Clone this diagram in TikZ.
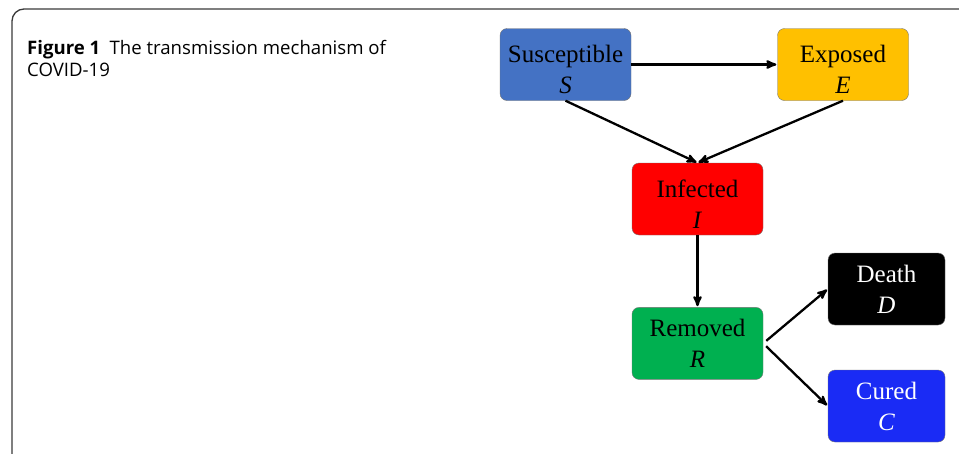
\documentclass[tikz,border=0pt]{standalone}
\usepackage{fontspec}
\setmainfont{Liberation Serif}
\newfontfamily\captionfont{Open Sans}
\usetikzlibrary{positioning,arrows}
\definecolor{suscblue}{HTML}{4472C4}
\definecolor{exposedyellow}{HTML}{FFC000}
\definecolor{infectedred}{HTML}{FF0000}
\definecolor{removedgreen}{HTML}{00B050}
\definecolor{curedblue}{HTML}{1A2BF5}
\definecolor{framegray}{HTML}{3A3A3A}
\newcommand{\lowstrut}{\rule{0pt}{27.5pt}}
\tikzset{
>=stealth',
  compartment/.style={
    rectangle, 
    rounded corners=7pt, 
    draw=black!55, thin,
    minimum width=131pt, 
    minimum height=72pt, 
    align=center,
    font=\fontsize{25}{31}\selectfont},
  outcome/.style={
    compartment,
    minimum width=117pt,
    text=white},
  line/.style={draw, line width=2.3pt, ->, shorten >=1pt},
}
\begin{document}
\begin{tikzpicture}
  [x=1pt, y=1pt]
  \useasboundingbox (0,0) rectangle (959,-453);
  % frame of the figure box
  \draw[framegray, line width=1.3pt] (12,-460) -- (12,-21) arc (180:90:12) -- (965,-9);
  \node[anchor=north west, align=left, inner sep=0pt,
        font=\captionfont\fontsize{18.6}{22}\selectfont] (caption) at (27,-40)
        {\textbf{Figure 1}\enspace The transmission mechanism of\\COVID-19};
  % compartments
  \node[compartment, fill=suscblue] (S) at (565.5,-64.5) {\lowstrut Susceptible\\\textit{S}};
  \node[compartment, fill=exposedyellow] (E) at (843,-64.5) {\lowstrut Exposed\\\textit{E}};
  \node[compartment, fill=infectedred] (I) at (697.5,-199) {\lowstrut Infected\\\textit{I}};
  \node[compartment, fill=removedgreen, below=72pt of I] (R) {Removed\\\textit{R}};
  \node[outcome, fill=black] (D) at (886.5,-289) {Death\\\textit{D}};
  \node[outcome, fill=curedblue] (C) at (886.5,-406) {Cured\\\textit{C}};
  % transitions
  \path[line] (S.east) -- (E.west);
  \path[line] (S.south) -- (I.north);
  \path[line] (E.south) -- (I.north);
  \path[line] (I.south) -- (R.north);
  \path[line, shorten <=4pt] (R.east) -- (D.west);
  \path[line, shorten <=4pt] (R.east) -- (C.west);
\end{tikzpicture}
\end{document}
